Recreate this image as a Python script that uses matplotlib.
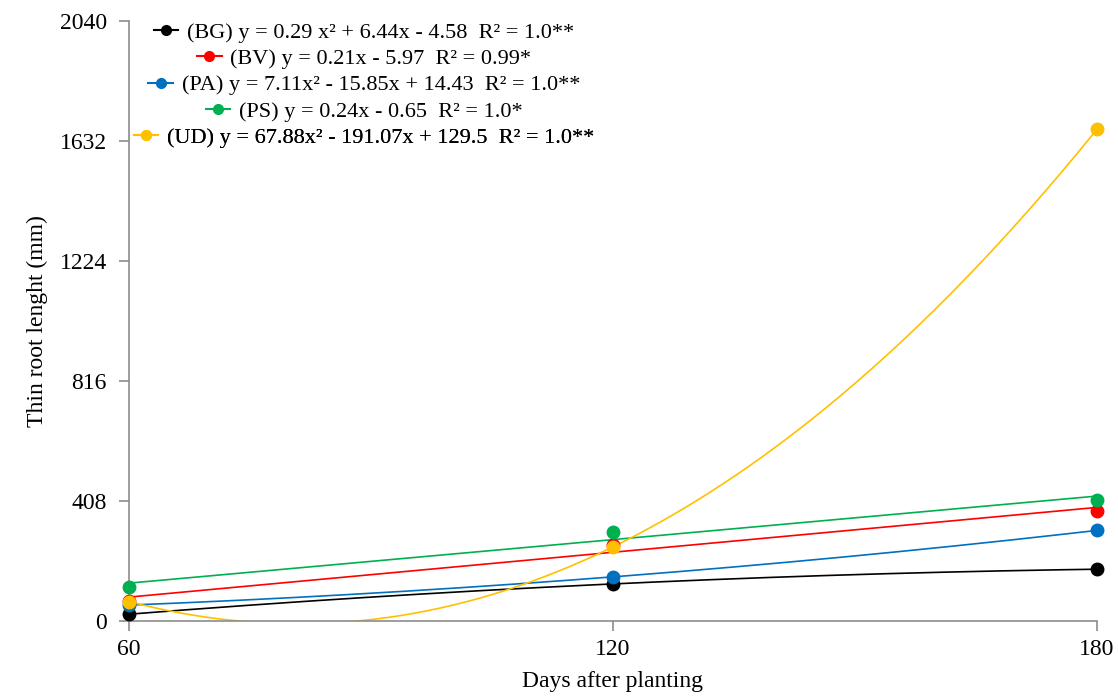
import numpy as np
import matplotlib
matplotlib.use("Agg")
import matplotlib.pyplot as plt
from matplotlib.lines import Line2D

plt.rcParams['font.family'] = ['Liberation Serif', 'DejaVu Serif']

# Data
days = [60, 120, 180]
bg = [23, 126, 176]
bv = [69, 258, 374]
pa = [54, 150, 308]
ps = [115, 304, 411]
ud = [66, 252, 1672]

series = [
    ("BG", bg, 2, "#000000", "(BG) y = 0.29 x² + 6.44x - 4.58  R² = 1.0**"),
    ("BV", bv, 1, "#FF0000", "(BV) y = 0.21x - 5.97  R² = 0.99*"),
    ("PA", pa, 2, "#0070C0", "(PA) y = 7.11x² - 15.85x + 14.43  R² = 1.0**"),
    ("PS", ps, 1, "#00B050", "(PS) y = 0.24x - 0.65  R² = 1.0*"),
    ("UD", ud, 2, "#FFC000", "(UD) y = 67.88x² - 191.07x + 129.5  R² = 1.0**"),
]

fig = plt.figure(figsize=(11.18, 6.96), dpi=100)
ax = fig.add_axes([0.1154, 0.1078, 0.8658, 0.862])

# trend lines fitted on the period index (1, 2, 3), like the spreadsheet trendlines
idx = np.arange(1, len(days) + 1)
xs = np.linspace(1, len(days), 300)
xs_days = np.interp(xs, idx, days)
for name, vals, deg, color, label in series:
    coef = np.polyfit(idx, vals, deg)
    ax.plot(xs_days, np.polyval(coef, xs), color=color, lw=1.2, zorder=2)
for name, vals, deg, color, label in series:
    ax.plot(days, vals, 'o', color=color, ms=9, clip_on=False, zorder=3)

ax.set_xlim(60, 180)
ax.set_ylim(0, 2040)
ax.set_xticks(days)
ax.set_yticks(np.arange(0, 2041, 408))
ax.tick_params(labelsize=17, color='#8c8c8c', length=7, width=1.2, pad=6)
ax.tick_params(axis='y', pad=9)
for side in ['top', 'right']:
    ax.spines[side].set_visible(False)
for side in ['left', 'bottom']:
    ax.spines[side].set_color('#8c8c8c')
    ax.spines[side].set_linewidth(1.2)

ax.set_xlabel('Days after planting', fontsize=17, labelpad=8)
ax.set_ylabel('Thin root lenght (mm)', fontsize=17, labelpad=8)

# one centred legend row per series
row_y = [0.981, 0.937, 0.893, 0.849, 0.806]
for (name, vals, deg, color, label), y in zip(series, row_y):
    h = Line2D([0], [0], color=color, lw=1.5, marker='o', ms=7)
    leg = ax.legend([h], [label], loc='center', bbox_to_anchor=(0.243, y),
                    frameon=False, fontsize=16, handlelength=1.1,
                    handletextpad=0.4, borderpad=0, borderaxespad=0)
    ax.add_artist(leg)

fig.savefig('out.png', dpi=100)
